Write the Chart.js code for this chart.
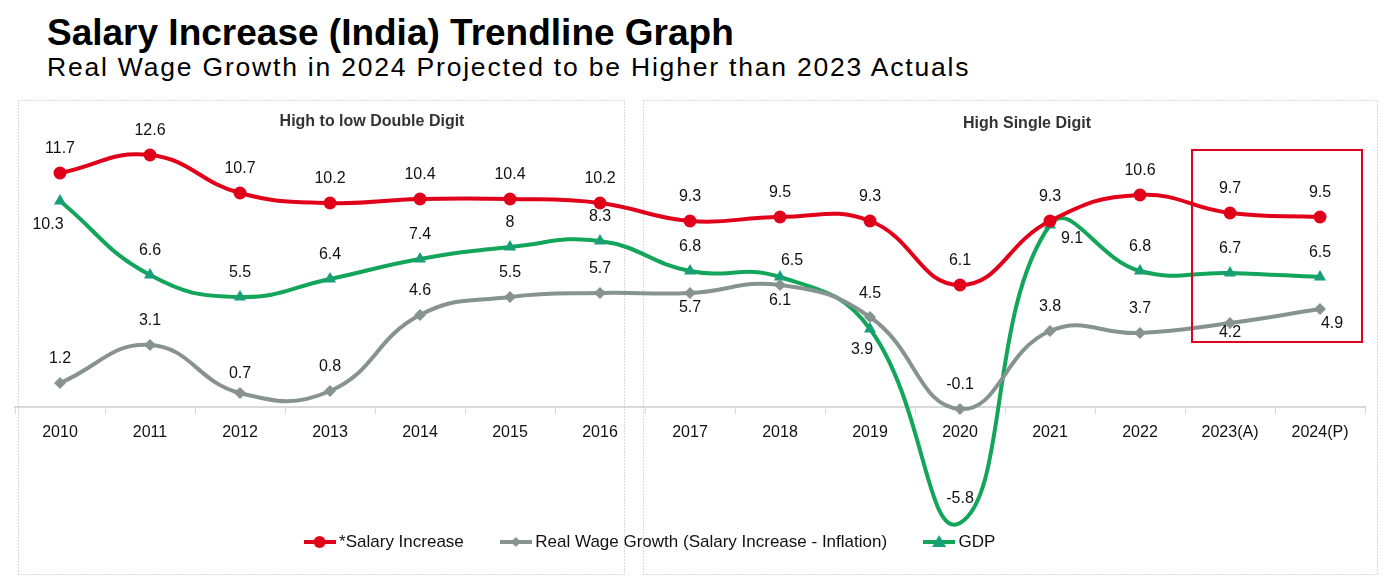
<!DOCTYPE html>
<html>
<head>
<meta charset="utf-8">
<script src="https://cdn.jsdelivr.net/npm/chart.js@4.4.1/dist/chart.umd.min.js"></script>
<style>
  html, body { margin: 0; padding: 0; background: #fff; }
  body { width: 1392px; height: 578px; position: relative; overflow: hidden; font-family: "Liberation Sans", Arial, sans-serif; }
  #title { position: absolute; left: 47px; top: 14px; font-size: 37px; line-height: 1; font-weight: bold; color: #000; white-space: nowrap; }
  #subtitle { position: absolute; left: 47px; top: 54px; font-size: 26.5px; line-height: 1; color: #000; white-space: nowrap; letter-spacing: 1.8px; }
  #chart { position: absolute; left: 0; top: 0; }
</style>
</head>
<body>
<div id="title">Salary Increase (India) Trendline Graph</div>
<div id="subtitle">Real Wage Growth in 2024 Projected to be Higher than 2023 Actuals</div>
<canvas id="chart" width="1392" height="578"></canvas>
<script>
const years = ["2010", "2011", "2012", "2013", "2014", "2015", "2016", "2017", "2018", "2019", "2020", "2021", "2022", "2023(A)", "2024(P)"];
const salaryIncrease = [11.7, 12.6, 10.7, 10.2, 10.4, 10.4, 10.2, 9.3, 9.5, 9.3, 6.1, 9.3, 10.6, 9.7, 9.5];
const realWageGrowth = [1.2, 3.1, 0.7, 0.8, 4.6, 5.5, 5.7, 5.7, 6.1, 4.5, -0.1, 3.8, 3.7, 4.2, 4.9];
const gdp = [10.3, 6.6, 5.5, 6.4, 7.4, 8, 8.3, 6.8, 6.5, 3.9, -5.8, 9.1, 6.8, 6.7, 6.5];

const RED = "#e1001a";
const GRAY = "#879391";
const GREEN = "#13a55a";
const TEAL = "#179f78";
const FONT = "'Liberation Sans', Arial, sans-serif";

// label offsets [dx, dy] from each point; default is straight above
const labelOffsets = {
  0: {},
  1: { 7: [0, 15], 8: [0, 16], 9: [0, -23], 13: [0, 10], 14: [12, 15], 2: [0, -19] },
  2: { 0: [-12, 24], 8: [12, -16], 9: [-8, 21], 11: [22, 14] },
};

function legendIcon(line, fill, style, r) {
  const c = document.createElement("canvas");
  c.width = 32; c.height = 16;
  const ctx = c.getContext("2d");
  ctx.strokeStyle = line; ctx.lineWidth = 4;
  ctx.beginPath(); ctx.moveTo(0, 8); ctx.lineTo(32, 8); ctx.stroke();
  ctx.fillStyle = fill;
  ctx.beginPath();
  if (style === "circle") ctx.arc(16, 8, r, 0, Math.PI * 2);
  if (style === "diamond") { ctx.moveTo(16, 8 - r); ctx.lineTo(16 + r, 8); ctx.lineTo(16, 8 + r); ctx.lineTo(16 - r, 8); }
  if (style === "triangle") { ctx.moveTo(16, 8 - r); ctx.lineTo(16 + r, 8 + r * 0.7); ctx.lineTo(16 - r, 8 + r * 0.7); }
  ctx.closePath(); ctx.fill();
  return c;
}

const decorations = {
  id: "decorations",
  beforeDatasetsDraw(chart) {
    const { ctx } = chart;
    const x = chart.scales.x;
    ctx.save();
    ctx.strokeStyle = "#b5b5b5";
    ctx.lineWidth = 1;
    ctx.setLineDash([1, 2]);
    ctx.strokeRect(x.getPixelForValue(0) - 41.5, 100.5, x.getPixelForValue(6) + 25 - x.getPixelForValue(0) + 41, 474);
    ctx.strokeRect(x.getPixelForValue(7) - 46.5, 100.5, x.getPixelForValue(14) + 58 - x.getPixelForValue(7) + 46, 474);
    ctx.setLineDash([]);
    ctx.fillStyle = "#333";
    ctx.font = "bold 16px " + FONT;
    ctx.textAlign = "center";
    ctx.textBaseline = "middle";
    ctx.fillText("High to low Double Digit", x.getPixelForValue(3) + 42, 122);
    ctx.fillText("High Single Digit", x.getPixelForValue(10) + 67, 124);
    ctx.restore();
  },
  afterDatasetsDraw(chart) {
    const { ctx } = chart;
    const x = chart.scales.x, y = chart.scales.y;
    ctx.save();
    ctx.strokeStyle = "#e3001b";
    ctx.lineWidth = 2;
    const l = x.getPixelForValue(13) - 38, r = x.getPixelForValue(14) + 42;
    const t = y.getPixelForValue(12.85), b = y.getPixelForValue(3.25);
    ctx.strokeRect(l, t, r - l, b - t);

    ctx.fillStyle = "#111";
    ctx.font = "16px " + FONT;
    ctx.textAlign = "center";
    ctx.textBaseline = "middle";
    chart.data.datasets.forEach((ds, di) => {
      chart.getDatasetMeta(di).data.forEach((pt, i) => {
        const off = labelOffsets[di][i] || [0, -24];
        ctx.fillText(String(ds.data[i]), pt.x + off[0], pt.y + off[1]);
      });
    });
    ctx.restore();
  },
  afterLayout(chart) {
    // nudge the legend to where the original sits
    chart.legend.left -= 38;
    chart.legend.right -= 38;
    chart.legend.top -= 17.5;
    chart.legend.bottom -= 17.5;
  },
};

new Chart(document.getElementById("chart"), {
  type: "line",
  data: {
    labels: years,
    datasets: [
      {
        label: "*Salary Increase",
        data: salaryIncrease,
        borderColor: RED,
        backgroundColor: RED,
        pointStyle: "circle",
        pointRadius: 6.5,
        legendIcon: legendIcon(RED, RED, "circle", 6),
      },
      {
        label: "Real Wage Growth (Salary Increase - Inflation)",
        data: realWageGrowth,
        borderColor: GRAY,
        backgroundColor: GRAY,
        pointStyle: "rectRot",
        pointRadius: 6,
        legendIcon: legendIcon(GRAY, GRAY, "diamond", 5),
      },
      {
        label: "GDP",
        data: gdp,
        borderColor: GREEN,
        backgroundColor: TEAL,
        pointStyle: "triangle",
        pointRadius: 7,
        legendIcon: legendIcon(GREEN, TEAL, "triangle", 7),
      },
    ].map((d) => ({ ...d, borderWidth: 4, tension: 0.45, clip: false, pointBorderWidth: 0 })),
  },
  options: {
    responsive: false,
    devicePixelRatio: 1,
    animation: false,
    layout: { padding: { top: 100, left: 15, right: 27, bottom: 0 } },
    plugins: {
      legend: {
        position: "bottom",
        labels: {
          usePointStyle: true,
          pointStyleWidth: 22,
          padding: 41,
          color: "#111",
          font: { size: 17, family: FONT },
          generateLabels(chart) {
            return chart.data.datasets.map((ds, i) => ({
              text: ds.label,
              pointStyle: ds.legendIcon,
              fontColor: "#111",
              hidden: false,
              datasetIndex: i,
              lineWidth: 0,
            }));
          },
        },
      },
      tooltip: { enabled: false },
    },
    scales: {
      x: {
        position: { y: 0 },
        offset: true,
        grid: { offset: true, drawOnChartArea: false, drawTicks: true, tickLength: 6, color: "#d9d9d9" },
        border: { color: "#d9d9d9", width: 2 },
        ticks: { color: "#111", padding: 10, font: { size: 16, family: FONT } },
      },
      y: {
        display: false,
        min: -5.15,
        max: 15.35,
      },
    },
  },
  plugins: [decorations],
});
</script>
</body>
</html>
